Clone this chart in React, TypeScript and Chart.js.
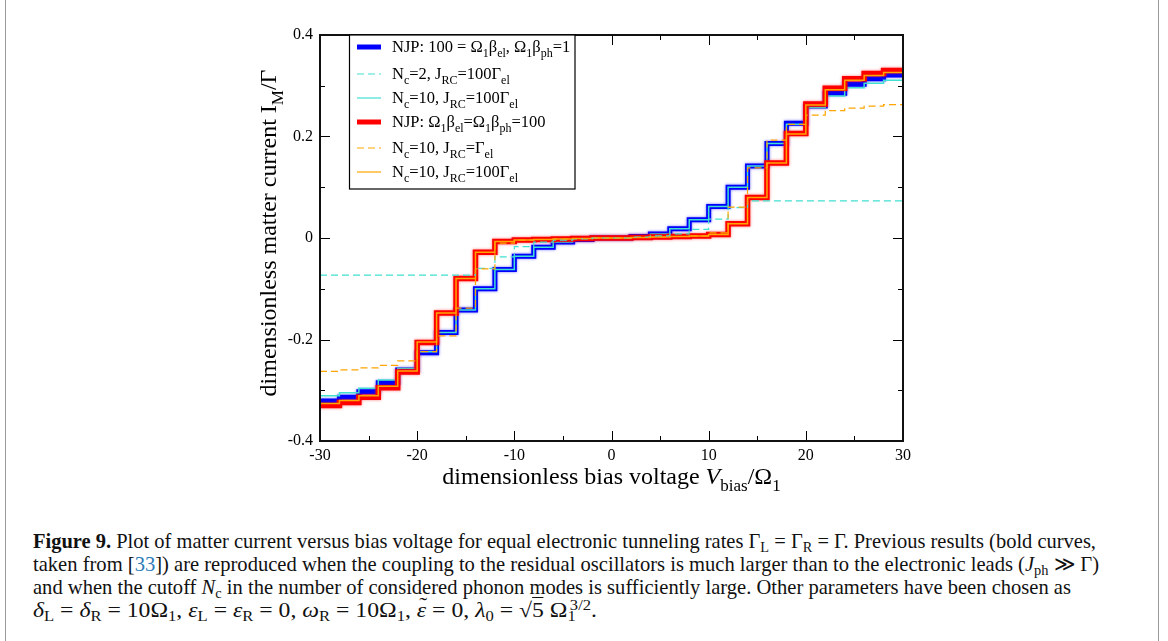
import React, { useEffect, useLayoutEffect, useRef } from 'react';
import { Chart, registerables } from 'chart.js';

Chart.register(...registerables);

// Axis ranges: bias voltage in units of Ω1, matter current in units of Γ
const biasRange = [-30, 30];
const currentRange = [-0.4, 0.4];
const biasTicks = [-30, -20, -10, 0, 10, 20, 30];
const currentTicks = [-0.4, -0.2, 0, 0.2, 0.4];

// Bias voltages at which a new plateau starts (positive side; curves are odd in V)
const stepEdges = [2, 4, 6, 8, 10, 12, 14, 16, 18, 20, 22, 24, 26, 28];

// Plateau currents following each edge, positive bias
const njpHotPhonons = [0.003, 0.008, 0.018, 0.036, 0.062, 0.1, 0.142, 0.186, 0.226, 0.26, 0.285, 0.303, 0.314, 0.321];
const nc2Strong = [0.002, 0.004, 0.008, 0.017, 0.037, 0.06, 0.073, 0.073, 0.073, 0.073, 0.073, 0.073, 0.073, 0.073];
const nc10Strong = [0.003, 0.008, 0.018, 0.036, 0.062, 0.1, 0.142, 0.186, 0.224, 0.257, 0.28, 0.296, 0.305, 0.311];
const njpCold = [0.001, 0.002, 0.003, 0.004, 0.007, 0.028, 0.08, 0.148, 0.206, 0.264, 0.295, 0.314, 0.324, 0.33];
const nc10Weak = [0.001, 0.002, 0.003, 0.004, 0.01, 0.061, 0.138, 0.193, 0.224, 0.242, 0.251, 0.256, 0.26, 0.263];
const nc10StrongCold = [0.001, 0.002, 0.003, 0.004, 0.007, 0.028, 0.08, 0.148, 0.205, 0.262, 0.292, 0.311, 0.32, 0.326];

const SERIF = '"Liberation Serif", "Times New Roman", serif';

type Run = { t: string; sub?: boolean; sup?: boolean; it?: boolean };

const legendLabels: Run[][] = [
  [{ t: 'NJP: 100 = Ω' }, { t: '1', sub: true }, { t: 'β' }, { t: 'el', sub: true }, { t: ', Ω' }, { t: '1', sub: true }, { t: 'β' }, { t: 'ph', sub: true }, { t: '=1' }],
  [{ t: 'N' }, { t: 'c', sub: true }, { t: '=2, J' }, { t: 'RC', sub: true }, { t: '=100Γ' }, { t: 'el', sub: true }],
  [{ t: 'N' }, { t: 'c', sub: true }, { t: '=10, J' }, { t: 'RC', sub: true }, { t: '=100Γ' }, { t: 'el', sub: true }],
  [{ t: 'NJP: Ω' }, { t: '1', sub: true }, { t: 'β' }, { t: 'el', sub: true }, { t: '=Ω' }, { t: '1', sub: true }, { t: 'β' }, { t: 'ph', sub: true }, { t: '=100' }],
  [{ t: 'N' }, { t: 'c', sub: true }, { t: '=10, J' }, { t: 'RC', sub: true }, { t: '=Γ' }, { t: 'el', sub: true }],
  [{ t: 'N' }, { t: 'c', sub: true }, { t: '=10, J' }, { t: 'RC', sub: true }, { t: '=100Γ' }, { t: 'el', sub: true }],
];

const xTitle: Run[] = [{ t: 'dimensionless bias voltage ' }, { t: 'V', it: true }, { t: 'bias', sub: true }, { t: '/Ω' }, { t: '1', sub: true }];
const yTitle: Run[] = [{ t: 'dimensionless matter current I' }, { t: 'M', sub: true }, { t: '/Γ' }];

// Turn plateau levels into step points spanning the whole bias range
function plateauPoints(levels: number[]) {
  const n = levels.length;
  const pts: { x: number; y: number }[] = [];
  for (let i = n - 1; i >= 0; i--) {
    const start = i + 1 < n ? -stepEdges[i + 1] : biasRange[0];
    pts.push({ x: start, y: -levels[i] });
  }
  pts.push({ x: -stepEdges[0], y: 0 });
  for (let i = 0; i < n; i++) pts.push({ x: stepEdges[i], y: levels[i] });
  pts.push({ x: biasRange[1], y: levels[n - 1] });
  return pts;
}

function runFont(r: Run, size: number) {
  return `${r.it ? 'italic ' : ''}${r.sub || r.sup ? Math.round(size * 0.7) : size}px ${SERIF}`;
}

function runsWidth(ctx: CanvasRenderingContext2D, runs: Run[], size: number) {
  let w = 0;
  for (const r of runs) {
    ctx.font = runFont(r, size);
    w += ctx.measureText(r.t).width;
  }
  return w;
}

function drawRuns(ctx: CanvasRenderingContext2D, runs: Run[], x: number, y: number, size: number, align: 'left' | 'center') {
  let cx = align === 'center' ? x - runsWidth(ctx, runs, size) / 2 : x;
  ctx.textAlign = 'left';
  ctx.textBaseline = 'alphabetic';
  for (const r of runs) {
    ctx.font = runFont(r, size);
    const dy = r.sub ? size * 0.28 : r.sup ? -size * 0.4 : 0;
    ctx.fillText(r.t, cx, y + dy);
    cx += ctx.measureText(r.t).width;
  }
}

// Soft halo under the bold reference curves
const haloPlugin = {
  id: 'boldHalo',
  beforeDatasetDraw(chart: any, args: any) {
    const ds = chart.data.datasets[args.index];
    if (!ds.halo) return;
    chart.ctx.save();
    chart.ctx.shadowColor = ds.halo;
    chart.ctx.shadowBlur = 3;
  },
  afterDatasetDraw(chart: any, args: any) {
    const ds = chart.data.datasets[args.index];
    if (!ds.halo) return;
    chart.ctx.restore();
  },
};

const framePlugin = {
  id: 'frameAndTicks',
  afterDatasetsDraw(chart: any) {
    const { ctx, chartArea: a, scales } = chart;
    ctx.save();
    ctx.strokeStyle = '#000';
    ctx.lineWidth = 1;
    for (let v = biasRange[0]; v <= biasRange[1]; v += 5) {
      const px = Math.round(scales.x.getPixelForValue(v)) + 0.5;
      const len = v % 10 === 0 ? 10 : 5;
      ctx.beginPath();
      ctx.moveTo(px, a.bottom);
      ctx.lineTo(px, a.bottom - len);
      ctx.moveTo(px, a.top);
      ctx.lineTo(px, a.top + len);
      ctx.stroke();
    }
    for (let k = -4; k <= 4; k++) {
      const py = Math.round(scales.y.getPixelForValue(k / 10)) + 0.5;
      const len = k % 2 === 0 ? 10 : 5;
      ctx.beginPath();
      ctx.moveTo(a.left, py);
      ctx.lineTo(a.left + len, py);
      ctx.moveTo(a.right, py);
      ctx.lineTo(a.right - len, py);
      ctx.stroke();
    }
    ctx.lineWidth = 2;
    ctx.strokeStyle = '#111';
    ctx.strokeRect(a.left, a.top, a.right - a.left, a.bottom - a.top);
    ctx.restore();
  },
};

const annotationsPlugin = {
  id: 'titlesAndLegend',
  afterDraw(chart: any) {
    const { ctx, chartArea: a } = chart;
    ctx.save();
    ctx.fillStyle = '#000';
    drawRuns(ctx, xTitle, (a.left + a.right) / 2, 484, 24, 'center');
    ctx.save();
    ctx.translate(276, 233);
    ctx.rotate(-Math.PI / 2);
    drawRuns(ctx, yTitle, 0, 0, 24, 'center');
    ctx.restore();

    // legend box
    const bx = 349.5, by = a.top, bw = 225.5, bh = 154;
    ctx.fillStyle = '#fff';
    ctx.fillRect(bx, by, bw, bh);
    ctx.strokeStyle = '#000';
    ctx.lineWidth = 1.2;
    ctx.strokeRect(bx, by, bw, bh);
    const rows = [47, 74, 98, 122, 148, 172];
    chart.data.datasets.forEach((ds: any, i: number) => {
      const y = rows[i];
      ctx.save();
      ctx.strokeStyle = ds.borderColor;
      ctx.lineWidth = ds.legendWidth;
      ctx.setLineDash(ds.borderDash || []);
      ctx.beginPath();
      ctx.moveTo(357, y);
      ctx.lineTo(381, y);
      ctx.stroke();
      ctx.restore();
      ctx.fillStyle = '#000';
      drawRuns(ctx, legendLabels[i], 392, y + 5, 16.5, 'left');
    });
    ctx.restore();
  },
};

const BLUE = '#0000ff';
const RED = '#ff0000';
const TURQ = '#40e0d0';
const ORANGE = '#ffa500';

function CaptionLine({ target, children }: { target: number; children: React.ReactNode }) {
  const ref = useRef<HTMLDivElement>(null);
  useLayoutEffect(() => {
    const el = ref.current;
    if (!el) return;
    el.style.transform = 'none';
    const w = el.getBoundingClientRect().width;
    if (w > 0) el.style.transform = `scaleX(${target / w})`;
  }, [target]);
  return (
    <div style={{ height: 23, lineHeight: '23px' }}>
      <div ref={ref} style={{ display: 'inline-block', whiteSpace: 'nowrap', transformOrigin: '0 50%' }}>
        {children}
      </div>
    </div>
  );
}

const subS: React.CSSProperties = { fontSize: '0.7em', verticalAlign: '-0.25em', lineHeight: 0 };
const supS: React.CSSProperties = { fontSize: '0.7em', verticalAlign: '0.5em', lineHeight: 0 };

function Tilde({ children }: { children: React.ReactNode }) {
  return (
    <span style={{ position: 'relative', display: 'inline-block' }}>
      {children}
      <span style={{ position: 'absolute', left: '0.1em', top: '-0.2em', fontStyle: 'normal', lineHeight: 1 }}>˜</span>
    </span>
  );
}

export default function App() {
  const canvasRef = useRef<HTMLCanvasElement>(null);

  useEffect(() => {
    document.body.style.margin = '0';
    const canvas = canvasRef.current;
    if (!canvas) return;
    const lineBase = { stepped: 'before' as const, pointRadius: 0, borderJoinStyle: 'miter' as const, borderCapStyle: 'butt' as const, fill: false };
    const chart = new Chart(canvas, {
      type: 'line',
      data: {
        datasets: [
          { ...lineBase, data: plateauPoints(njpHotPhonons), borderColor: BLUE, borderWidth: 5, legendWidth: 5, halo: 'rgba(0,0,255,0.55)', order: 6 },
          { ...lineBase, data: plateauPoints(nc2Strong), borderColor: TURQ, borderWidth: 1.2, borderDash: [7, 4], legendWidth: 1.2, order: 2 },
          { ...lineBase, data: plateauPoints(nc10Strong), borderColor: TURQ, borderWidth: 1.5, legendWidth: 1.2, order: 5 },
          { ...lineBase, data: plateauPoints(njpCold), borderColor: RED, borderWidth: 5.5, legendWidth: 5, halo: 'rgba(255,0,0,0.5)', order: 4 },
          { ...lineBase, data: plateauPoints(nc10Weak), borderColor: ORANGE, borderWidth: 1.2, borderDash: [7, 4], legendWidth: 1.2, order: 1 },
          { ...lineBase, data: plateauPoints(nc10StrongCold), borderColor: ORANGE, borderWidth: 1.5, legendWidth: 1.2, order: 3 },
        ] as any,
      },
      options: {
        animation: false,
        responsive: false,
        layout: { padding: { left: 280, right: 265, top: 35, bottom: 35 } },
        plugins: { legend: { display: false }, tooltip: { enabled: false } },
        scales: {
          x: {
            type: 'linear',
            min: biasRange[0],
            max: biasRange[1],
            afterBuildTicks: (s: any) => { s.ticks = biasTicks.map((v) => ({ value: v })); },
            afterFit: (s: any) => { s.height = 24; },
            grid: { display: false, drawTicks: false },
            border: { display: false },
            ticks: { autoSkip: false, maxRotation: 0, padding: 5, color: '#000', font: { family: SERIF, size: 16 }, callback: (v: any) => String(v) },
          },
          y: {
            type: 'linear',
            min: currentRange[0],
            max: currentRange[1],
            afterBuildTicks: (s: any) => { s.ticks = currentTicks.map((v) => ({ value: v })); },
            afterFit: (s: any) => { s.width = 40; },
            grid: { display: false, drawTicks: false },
            border: { display: false },
            ticks: { autoSkip: false, padding: 7, color: '#000', font: { family: SERIF, size: 16 }, callback: (v: any) => String(Math.round(Number(v) * 10) / 10) },
          },
        },
      },
      plugins: [haloPlugin, framePlugin, annotationsPlugin],
    });
    return () => chart.destroy();
  }, []);

  return (
    <div style={{ position: 'relative', width: 1168, height: 641, background: '#fff', overflow: 'hidden' }}>
      <canvas ref={canvasRef} width={1168} height={500} style={{ position: 'absolute', left: 0, top: 0, width: 1168, height: 500 }} />
      <div style={{ position: 'absolute', left: 5, top: 0, width: 1, height: 641, background: '#9a9a9a' }} />
      <div style={{ position: 'absolute', left: 1158, top: 0, width: 1, height: 641, background: '#9a9a9a' }} />
      <div style={{ position: 'absolute', left: 33, top: 530, fontFamily: SERIF, fontSize: 21, color: '#111' }}>
        <CaptionLine target={1063}>
          <b>Figure 9.</b> Plot of matter current versus bias voltage for equal electronic tunneling rates Γ<span style={subS}>L</span> = Γ<span style={subS}>R</span> = Γ. Previous results (bold curves,
        </CaptionLine>
        <CaptionLine target={1066}>
          taken from [<span style={{ color: '#2b7bb9' }}>33</span>]) are reproduced when the coupling to the residual oscillators is much larger than to the electronic leads (<i>J</i><span style={subS}>ph</span> ≫ Γ)
        </CaptionLine>
        <CaptionLine target={1038}>
          and when the cutoff <i>N</i><span style={subS}>c</span> in the number of considered phonon modes is sufficiently large. Other parameters have been chosen as
        </CaptionLine>
        <CaptionLine target={564}>
          <i>δ</i><span style={subS}>L</span> = <i>δ</i><span style={subS}>R</span> = 10Ω<span style={subS}>1</span>, <i>ε</i><span style={subS}>L</span> = <i>ε</i><span style={subS}>R</span> = 0, <i>ω</i><span style={subS}>R</span> = 10Ω<span style={subS}>1</span>, <Tilde><i>ε</i></Tilde> = 0, <i>λ</i><span style={subS}>0</span> = √<span style={{ borderTop: '1px solid #111' }}>5</span> Ω<span style={subS}>1</span><span style={{ ...supS, marginLeft: '-0.35em' }}>3/2</span>.
        </CaptionLine>
      </div>
    </div>
  );
}
